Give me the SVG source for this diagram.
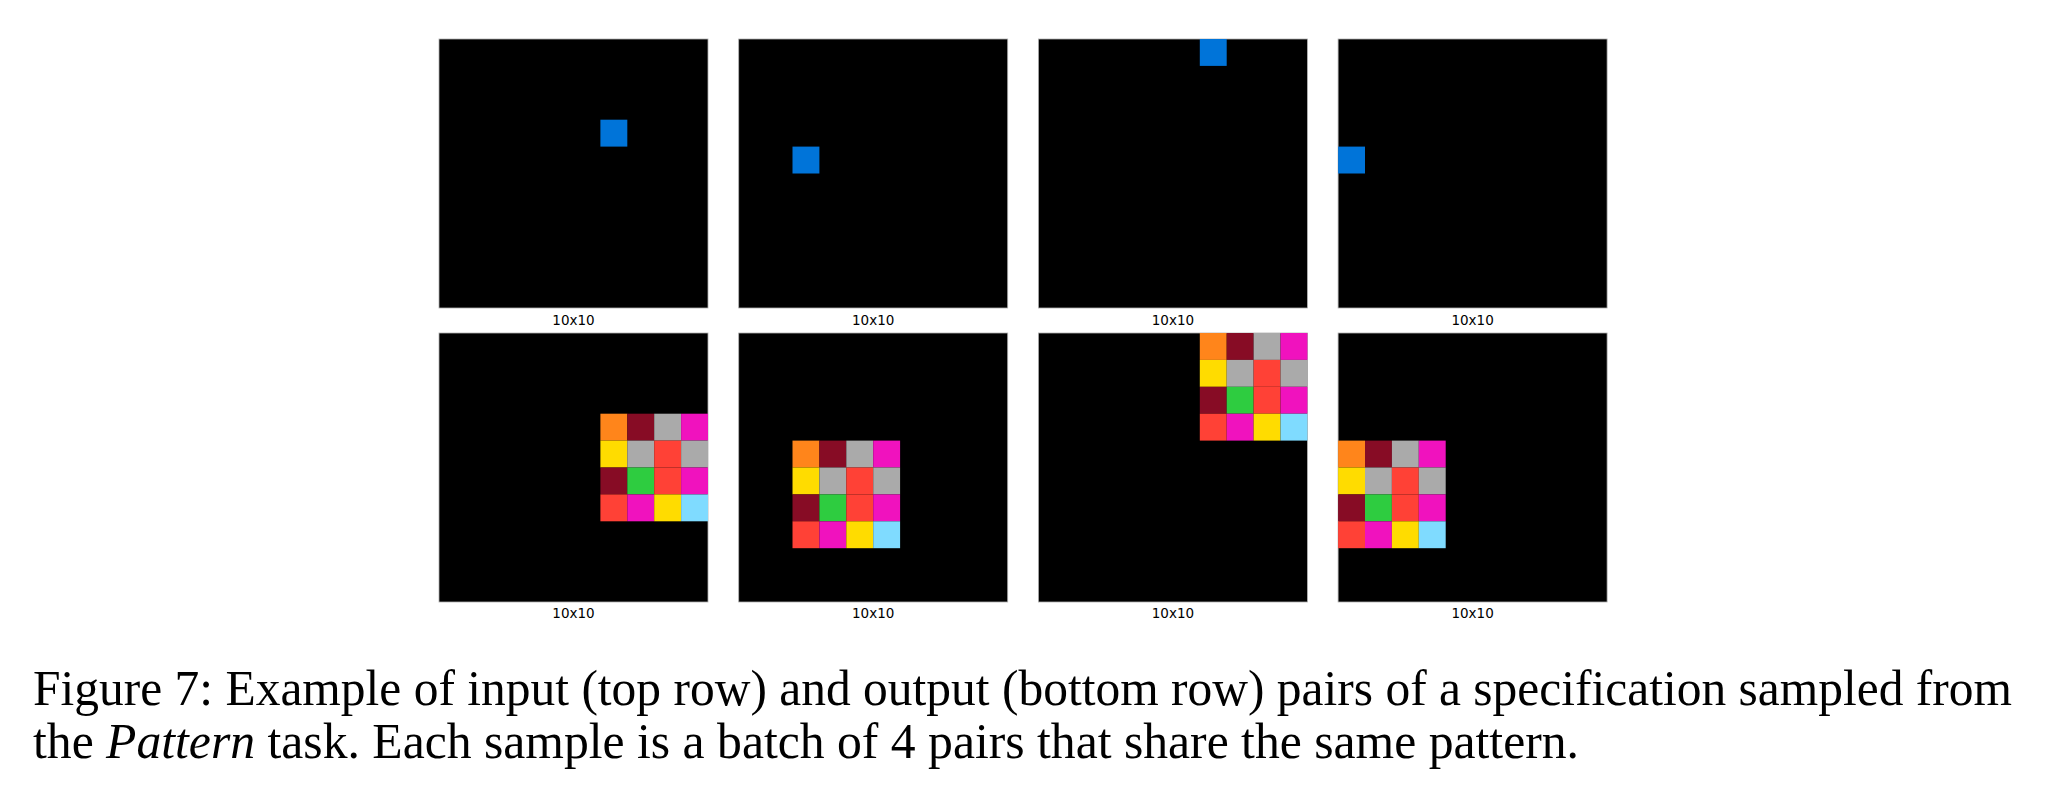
<svg xmlns="http://www.w3.org/2000/svg" width="2048" height="794" viewBox="0 0 2048 794">
<style>
.bg{fill:#000;stroke:#b0b0b0;stroke-width:0.8}
.lbl{font-family:"DejaVu Sans",sans-serif;font-size:13.5px;fill:#000;text-anchor:middle}
.cap{font-family:"Liberation Serif","Times New Roman",serif;font-size:50px;fill:#000}
.b{fill:#0074D9}.o{fill:#FF851B}.m{fill:#870C25}.g{fill:#AAAAAA}.p{fill:#F012BE}
.y{fill:#FFDC00}.r{fill:#FF4136}.gr{fill:#2ECC40}.lb{fill:#7FDBFF}
</style>
<defs>
<g id="pat">
<rect class="o" x="0" y="0" width="26.9" height="26.9"/><rect class="m" x="26.9" y="0" width="26.9" height="26.9"/><rect class="g" x="53.8" y="0" width="26.9" height="26.9"/><rect class="p" x="80.7" y="0" width="26.9" height="26.9"/>
<rect class="y" x="0" y="26.9" width="26.9" height="26.9"/><rect class="g" x="26.9" y="26.9" width="26.9" height="26.9"/><rect class="r" x="53.8" y="26.9" width="26.9" height="26.9"/><rect class="g" x="80.7" y="26.9" width="26.9" height="26.9"/>
<rect class="m" x="0" y="53.8" width="26.9" height="26.9"/><rect class="gr" x="26.9" y="53.8" width="26.9" height="26.9"/><rect class="r" x="53.8" y="53.8" width="26.9" height="26.9"/><rect class="p" x="80.7" y="53.8" width="26.9" height="26.9"/>
<rect class="r" x="0" y="80.7" width="26.9" height="26.9"/><rect class="p" x="26.9" y="80.7" width="26.9" height="26.9"/><rect class="y" x="53.8" y="80.7" width="26.9" height="26.9"/><rect class="lb" x="80.7" y="80.7" width="26.9" height="26.9"/>
</g>
</defs>
<rect width="2048" height="794" fill="#fff"/>
<g id="in1"><rect class="bg" x="439" y="39" width="269" height="269"/><rect class="b" x="600.4" y="119.7" width="26.9" height="26.9"/><text class="lbl" x="573.5" y="325">10x10</text></g>
<g id="in2"><rect class="bg" x="738.7" y="39" width="269" height="269"/><rect class="b" x="792.5" y="146.6" width="26.9" height="26.9"/><text class="lbl" x="873.2" y="325">10x10</text></g>
<g id="in3"><rect class="bg" x="1038.4" y="39" width="269" height="269"/><rect class="b" x="1199.8" y="39" width="26.9" height="26.9"/><text class="lbl" x="1172.9" y="325">10x10</text></g>
<g id="in4"><rect class="bg" x="1338.1" y="39" width="269" height="269"/><rect class="b" x="1338.1" y="146.6" width="26.9" height="26.9"/><text class="lbl" x="1472.6" y="325">10x10</text></g>
<g id="out1"><rect class="bg" x="439" y="333" width="269" height="269"/><use href="#pat" x="600.4" y="413.7"/><text class="lbl" x="573.5" y="618">10x10</text></g>
<g id="out2"><rect class="bg" x="738.7" y="333" width="269" height="269"/><use href="#pat" x="792.5" y="440.6"/><text class="lbl" x="873.2" y="618">10x10</text></g>
<g id="out3"><rect class="bg" x="1038.4" y="333" width="269" height="269"/><use href="#pat" x="1199.8" y="333"/><text class="lbl" x="1172.9" y="618">10x10</text></g>
<g id="out4"><rect class="bg" x="1338.1" y="333" width="269" height="269"/><use href="#pat" x="1338.1" y="440.6"/><text class="lbl" x="1472.6" y="618">10x10</text></g>
<g id="caption">
<text class="cap" x="33" y="705" textLength="1979" lengthAdjust="spacingAndGlyphs">Figure 7: Example of input (top row) and output (bottom row) pairs of a specification sampled from</text>
<text class="cap" x="33" y="758" textLength="1546" lengthAdjust="spacingAndGlyphs">the <tspan font-style="italic">Pattern</tspan> task. Each sample is a batch of 4 pairs that share the same pattern.</text>
</g>
</svg>
